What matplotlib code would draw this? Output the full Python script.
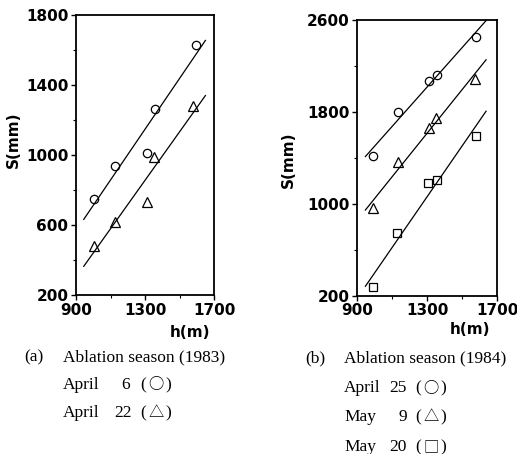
import numpy as np
import matplotlib.pyplot as plt


# snow water equivalent S (mm) against elevation h (m)
# 1983 ablation season
h_83_apr06 = [1006, 1128, 1312, 1356, 1596]
s_83_apr06 = [750, 937, 1010, 1265, 1627]
h_83_apr22 = [1002, 1126, 1310, 1354, 1580]
s_83_apr22 = [482, 619, 730, 990, 1280]

# 1984 ablation season
h_84_apr25 = [993, 1132, 1313, 1355, 1578]
s_84_apr25 = [1416, 1802, 2069, 2119, 2455]
h_84_may09 = [993, 1132, 1313, 1351, 1574]
s_84_may09 = [961, 1361, 1657, 1744, 2089]
h_84_may20 = [993, 1127, 1307, 1357, 1578]
s_84_may20 = [273, 748, 1178, 1207, 1593]

# elevation span of the fitted lines
fit_span_83 = [945, 1650]
fit_span_84 = [948, 1637]

h_ticks = [900, 1300, 1700]
h_minor = [1100, 1500]
s_ticks_83 = [200, 600, 1000, 1400, 1800]
s_minor_83 = [400, 800, 1200, 1600]
s_ticks_84 = [200, 1000, 1800, 2600]
s_minor_84 = [600, 1400, 2200]

caption_a = ['(a)', 'Ablation season (1983)', 'April', '6', '○', 'April', '22', '△']
caption_b = ['(b)', 'Ablation season (1984)', 'April', '25', '○', 'May', '9', '△', 'May', '20', '□']

BOLD = dict(fontsize=11, fontweight='bold', family='DejaVu Sans')
SERIF = ['Liberation Serif', 'DejaVu Sans']
SYMBOL = ['Noto Sans CJK JP', 'DejaVu Sans']


def fit_line(ax, h, s, span):
    a, b = np.polyfit(h, s, 1)
    xs = np.array(span)
    ax.plot(xs, a * xs + b, color='black', lw=0.9)


def style_axes(ax, yt, ymin_t):
    ax.set_xlim(h_ticks[0], h_ticks[-1])
    ax.set_ylim(yt[0], yt[-1])
    ax.set_xticks(h_ticks)
    ax.set_xticks(h_minor, minor=True)
    ax.set_yticks(yt)
    ax.set_yticks(ymin_t, minor=True)
    ax.tick_params(which='major', direction='out', length=3.5, width=1.0, pad=2)
    ax.tick_params(which='minor', direction='out', length=2, width=0.8)
    for sp in ax.spines.values():
        sp.set_linewidth(1.3)
    for lab in ax.get_xticklabels() + ax.get_yticklabels():
        lab.set_fontsize(BOLD['fontsize'])
        lab.set_fontweight('bold')


def series(ax, h, s, marker, ms):
    ax.plot(h, s, linestyle='none', marker=marker, ms=ms, mfc='white',
            mec='black', mew=0.9)


fig = plt.figure(figsize=(5.17, 4.54), dpi=100)

# (a) 1983
ax1 = fig.add_axes([0.147, 0.350, 0.267, 0.617])
series(ax1, h_83_apr06, s_83_apr06, 'o', 6)
series(ax1, h_83_apr22, s_83_apr22, '^', 6.5)
fit_line(ax1, h_83_apr06, s_83_apr06, fit_span_83)
fit_line(ax1, h_83_apr22, s_83_apr22, fit_span_83)
style_axes(ax1, s_ticks_83, s_minor_83)
ax1.set_ylabel('S(mm)', **BOLD)
ax1.yaxis.set_label_coords(-0.40, 0.554)
ax1.text(0.826, -0.132, 'h(m)', transform=ax1.transAxes, ha='center', va='center', **BOLD)

# (b) 1984
ax2 = fig.add_axes([0.6905, 0.3487, 0.271, 0.607])
series(ax2, h_84_apr25, s_84_apr25, 'o', 6)
series(ax2, h_84_may09, s_84_may09, '^', 6.5)
series(ax2, h_84_may20, s_84_may20, 's', 5.5)
fit_line(ax2, h_84_apr25, s_84_apr25, fit_span_84)
fit_line(ax2, h_84_may09, s_84_may09, fit_span_84)
fit_line(ax2, h_84_may20, s_84_may20, fit_span_84)
style_axes(ax2, s_ticks_84, s_minor_84)
ax2.set_ylabel('S(mm)', **BOLD)
ax2.yaxis.set_label_coords(-0.436, 0.492)
ax2.text(0.807, -0.124, 'h(m)', transform=ax2.transAxes, ha='center', va='center', **BOLD)


# captions below each panel, in pixel positions of the figure
def px(x, y):
    return x / 517, 1 - y / 454


def cap(x, y, s, ha='left', family=SERIF, size=12.5):
    fig.text(*px(x, y), s, ha=ha, va='center', fontsize=size, family=family)


def entry(x, y, month, day, sym, day_r, sym_l):
    cap(x, y, month)
    cap(day_r, y, day, ha='right')
    cap(sym_l, y, '(')
    cap(sym_l + 16, y, sym, ha='center', family=SYMBOL, size=11)
    cap(sym_l + 31, y, ')', ha='right')


cap(24, 357, caption_a[0])
cap(63, 357, caption_a[1])
entry(63, 385, caption_a[2], caption_a[3], caption_a[4], 130, 140)
entry(63, 413, caption_a[5], caption_a[6], caption_a[7], 132, 140)

cap(305, 358, caption_b[0])
cap(344, 358, caption_b[1])
entry(344, 388, caption_b[2], caption_b[3], caption_b[4], 407, 415)
entry(344, 417, caption_b[5], caption_b[6], caption_b[7], 407, 415)
entry(344, 447, caption_b[8], caption_b[9], caption_b[10], 407, 415)

fig.savefig('out.png', dpi=100)
